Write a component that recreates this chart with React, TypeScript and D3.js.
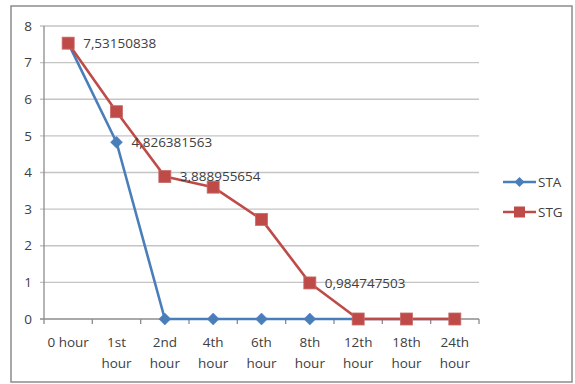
import React from "react";
import * as d3 from "d3";

const categories = ["0 hour", "1st hour", "2nd hour", "4th hour", "6th hour", "8th hour", "12th hour", "18th hour", "24th hour"];
const staValues = [7.53150838, 4.826381563, 0, 0, 0, 0, 0, 0, 0];
const stgValues = [7.53150838, 5.66, 3.888955654, 3.6, 2.72, 0.984747503, 0, 0, 0];
const yTicks = [0, 1, 2, 3, 4, 5, 6, 7, 8];
// indices of points that carry a value label
const staLabelIdx = [1];
const stgLabelIdx = [0, 2, 5];

const W = 575;
const H = 384;
const plot = { left: 44, right: 479, top: 26, bottom: 319 };
const BLUE = "#4A7EBB";
const RED = "#BE4B48";
const TEXT = "#404040";
const FONT = "'Open Sans', sans-serif";

const fmt = (v: number) => String(v).replace(".", ",");

export default function App() {
  const x = d3.scaleBand<string>().domain(categories).range([plot.left, plot.right]);
  const y = d3.scaleLinear().domain([0, 8]).range([plot.bottom, plot.top]);
  const cx = (i: number) => (x(categories[i]) ?? 0) + x.bandwidth() / 2;
  const line = d3
    .line<number>()
    .x((_, i) => cx(i))
    .y((d) => y(d));

  const diamond = (px: number, py: number, r: number) =>
    `M${px},${py - r}L${px + r},${py}L${px},${py + r}L${px - r},${py}Z`;

  const boundaries = d3.range(categories.length + 1).map((i) => plot.left + i * x.step());

  return (
    <svg
      width={W}
      height={H}
      style={{ position: "absolute", left: 0, top: 0, background: "#fff" }}
      fontFamily={FONT}
    >
      <rect x={11} y={6} width={561} height={376} fill="#fff" stroke="#8c8c8c" strokeWidth={1.5} />

      {/* horizontal gridlines */}
      {yTicks.map((t) => (
        <g key={t}>
          <line x1={plot.left - 4} x2={plot.right} y1={y(t)} y2={y(t)} stroke={t === 0 ? "#8c8c8c" : "#c4c4c4"} strokeWidth={1.3} />
          <text x={32} y={y(t)} dy="0.35em" textAnchor="end" fontSize={13.5} fill={TEXT}>
            {t}
          </text>
        </g>
      ))}

      {/* axes */}
      <line x1={plot.left} x2={plot.left} y1={plot.top} y2={plot.bottom} stroke="#8c8c8c" strokeWidth={1.3} />
      {boundaries.map((bx, i) => (
        <line key={i} x1={bx} x2={bx} y1={plot.bottom} y2={plot.bottom + 5} stroke="#8c8c8c" strokeWidth={1.3} />
      ))}

      {/* category labels */}
      {categories.map((c, i) => {
        const parts = i === 0 ? [c] : c.split(" ");
        return (
          <text key={c} x={cx(i)} y={347} textAnchor="middle" fontSize={13.5} fill={TEXT}>
            {parts.map((p, k) => (
              <tspan key={k} x={cx(i)} dy={k === 0 ? 0 : 21}>
                {p}
              </tspan>
            ))}
          </text>
        );
      })}

      {/* STA series */}
      <path d={line(staValues) ?? ""} fill="none" stroke={BLUE} strokeWidth={2.6} strokeLinejoin="round" />
      {staValues.map((v, i) => (
        <path key={i} d={diamond(cx(i), y(v), 6)} fill={BLUE} stroke={BLUE} strokeWidth={0.5} />
      ))}

      {/* STG series */}
      <path d={line(stgValues) ?? ""} fill="none" stroke={RED} strokeWidth={2.6} strokeLinejoin="round" />
      {stgValues.map((v, i) => (
        <rect key={i} x={cx(i) - 6} y={y(v) - 6} width={12} height={12} fill={RED} stroke="#c86a68" strokeWidth={0.8} />
      ))}

      {/* value labels */}
      {staLabelIdx.map((i) => (
        <text key={"a" + i} x={cx(i) + 15} y={y(staValues[i])} dy="0.35em" fontSize={13.5} fill={TEXT}>
          {fmt(staValues[i])}
        </text>
      ))}
      {stgLabelIdx.map((i) => (
        <text key={"g" + i} x={cx(i) + 15} y={y(stgValues[i])} dy="0.35em" fontSize={13.5} fill={TEXT}>
          {fmt(stgValues[i])}
        </text>
      ))}

      {/* legend */}
      <g>
        <line x1={503} x2={536} y1={182} y2={182} stroke={BLUE} strokeWidth={2.6} />
        <path d={diamond(519.5, 182, 5)} fill={BLUE} />
        <text x={538} y={182} dy="0.35em" fontSize={13.5} fill={TEXT}>STA</text>
        <line x1={503} x2={536} y1={212} y2={212} stroke={RED} strokeWidth={2.6} />
        <rect x={514} y={206.5} width={11} height={11} fill={RED} />
        <text x={538} y={212} dy="0.35em" fontSize={13.5} fill={TEXT}>STG</text>
      </g>
    </svg>
  );
}
